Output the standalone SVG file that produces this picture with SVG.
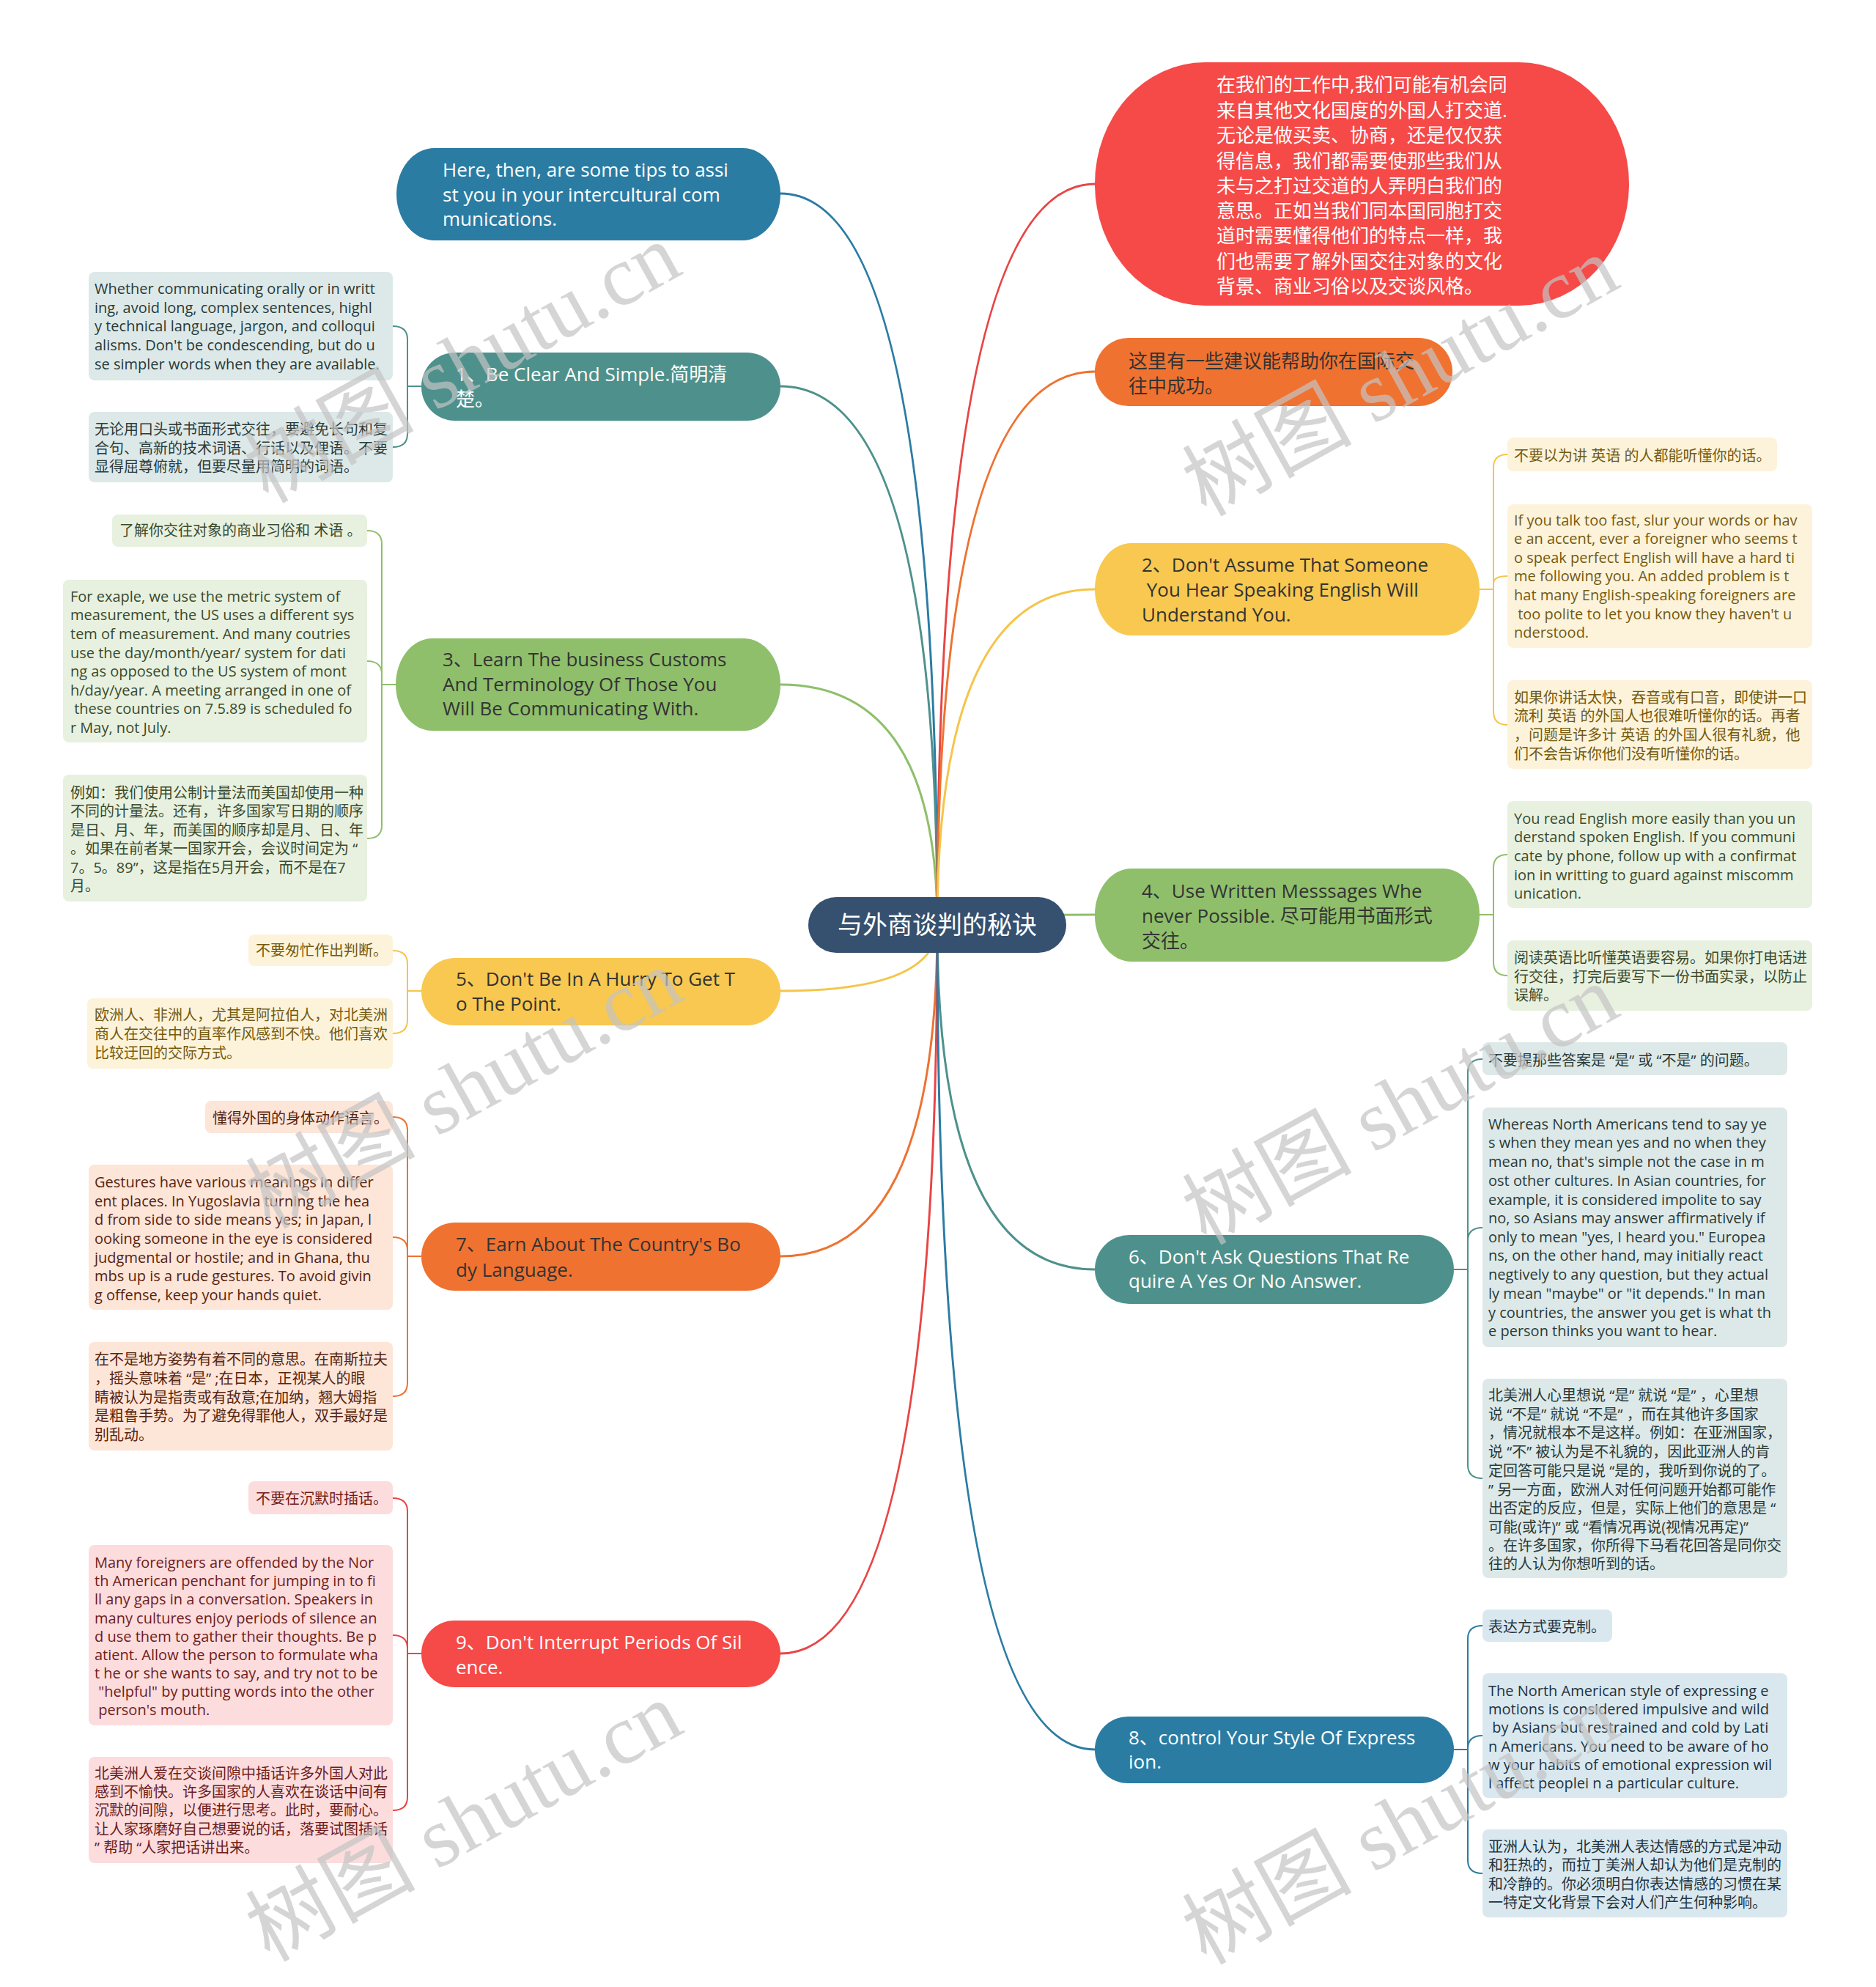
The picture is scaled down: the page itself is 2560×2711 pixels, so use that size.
<svg xmlns="http://www.w3.org/2000/svg" width="2560" height="2711" viewBox="0 0 2560 2711">
<style>
text { font-family: "Open Sans", "Noto Sans CJK SC", sans-serif; white-space: pre; }
.mt { font-size: 26px; }
.lt { font-size: 20px; }
.ct { font-size: 34px; fill: #ffffff; }
.w { fill: #ffffff; }
.d { fill: #333333; }
.con { fill: none; stroke-width: 3; stroke-linecap: round; }
.lcon { fill: none; stroke-width: 2; stroke-linecap: round; }
.blue { fill: #2b7ca3; } .teal { fill: #4e918c; } .green { fill: #8fbf6b; } .yellow { fill: #f8c850; } .orange { fill: #f07230; } .red { fill: #f54a48; }
.sblue { stroke: #2b7ca3; } .steal { stroke: #4e918c; } .sgreen { stroke: #8fbf6b; } .syellow { stroke: #f5c54a; } .sorange { stroke: #ee7230; } .sred { stroke: #e84545; }
.lteal { fill: #dde9e8; } .lgreen { fill: #e8f1df; } .lyellow { fill: #fdf3da; } .lorange { fill: #fde5d8; } .lred { fill: #fcdcdc; } .lblue { fill: #d9e8ef; }
.tteal { fill: #2a3a39; } .tgreen { fill: #3a4a2e; } .tyellow { fill: #735a10; } .torange { fill: #56240f; } .tred { fill: #6e1c1c; } .tblue { fill: #1f3340; }
.wm { font-family: "Liberation Serif", "Noto Sans CJK SC", serif; font-size: 116px; fill: #c4c4c4; opacity: 0.7; }
</style>

<g id="connectors">
  <path class="con sblue" d="M1279,1262 Q1279,264 1065,264"/>
  <path class="con steal" d="M1279,1262 Q1279,527 1065,527"/>
  <path class="con sgreen" d="M1279,1262 Q1279,934 1065,934"/>
  <path class="con syellow" d="M1279,1262 Q1279,1352 1065,1352"/>
  <path class="con sorange" d="M1279,1262 Q1279,1714 1065,1714"/>
  <path class="con sred" d="M1279,1262 Q1279,2256 1065,2256"/>
  <path class="con sred" d="M1279,1262 Q1279,251 1494,251"/>
  <path class="con sorange" d="M1279,1262 Q1279,507 1494,507"/>
  <path class="con syellow" d="M1279,1262 Q1279,804 1494,804"/>
  <path class="con sgreen" d="M1279,1262 Q1279,1248 1494,1248"/>
  <path class="con steal" d="M1279,1262 Q1279,1732 1494,1732"/>
  <path class="con sblue" d="M1279,1262 Q1279,2387 1494,2387"/>

  <path class="lcon steal" d="M575,527 H556 M556,527 V463 Q556,445 536,445 M556,527 V592 Q556,610 536,610"/>
  <path class="lcon sgreen" d="M540,934 H521 M521,934 V742 Q521,724 501,724 M521,934 V920 Q521,902 501,902 M521,934 V1126 Q521,1144 501,1144"/>
  <path class="lcon syellow" d="M575,1352 H556 M556,1352 V1315 Q556,1297 536,1297 M556,1352 V1392 Q556,1410 536,1410"/>
  <path class="lcon sorange" d="M575,1714 H556 M556,1714 V1542 Q556,1524 536,1524 M556,1714 V1706 Q556,1688 536,1688 M556,1714 V1887 Q556,1905 536,1905"/>
  <path class="lcon sred" d="M575,2256 H556 M556,2256 V2062 Q556,2044 536,2044 M556,2256 V2249 Q556,2231 536,2231 M556,2256 V2452 Q556,2470 536,2470"/>

  <path class="lcon syellow" d="M2019,804 H2038 M2038,804 V638 Q2038,620 2057,620 M2038,804 V796 Q2038,786 2057,786 M2038,804 V971 Q2038,989 2057,989"/>
  <path class="lcon sgreen" d="M2019,1248 H2038 M2038,1248 V1184 Q2038,1166 2057,1166 M2038,1248 V1313 Q2038,1331 2057,1331"/>
  <path class="lcon steal" d="M1984,1732 H2003 M2003,1732 V1463 Q2003,1445 2023,1445 M2003,1732 V1693 Q2003,1675 2023,1675 M2003,1732 V1999 Q2003,2017 2023,2017"/>
  <path class="lcon sblue" d="M1984,2387 H2003 M2003,2387 V2236 Q2003,2218 2023,2218 M2003,2387 V2386 Q2003,2368 2023,2368 M2003,2387 V2538 Q2003,2556 2023,2556"/>
</g>

<g id="center">
  <rect x="1103" y="1224" width="352" height="76" rx="38" fill="#36506f"/>
  <text class="ct" x="1279" y="1274" text-anchor="middle">与外商谈判的秘诀</text>
</g>

<g id="node-here">
  <rect class="blue" x="541" y="202" width="524" height="126" rx="52" ry="63"/>
  <text class="mt w"><tspan x="604" y="241">Here, then, are some tips to assi</tspan><tspan x="604" y="275">st you in your intercultural com</tspan><tspan x="604" y="308">munications.</tspan></text>
</g>

<g id="node-1">
  <rect class="teal" x="575" y="481" width="490" height="93" rx="46"/>
  <text class="mt w"><tspan x="622" y="520">1、Be Clear And Simple.简明清</tspan><tspan x="622" y="554">楚。</tspan></text>
</g>
<g id="leaf-1a">
  <rect class="lteal" x="121" y="371" width="415" height="148" rx="8"/>
  <text class="lt tteal"><tspan x="129" y="401">Whether communicating orally or in writt</tspan><tspan x="129" y="427">ing, avoid long, complex sentences, highl</tspan><tspan x="129" y="452">y technical language, jargon, and colloqui</tspan><tspan x="129" y="478">alisms. Don't be condescending, but do u</tspan><tspan x="129" y="504">se simpler words when they are available.</tspan></text>
</g>
<g id="leaf-1b">
  <rect class="lteal" x="121" y="562" width="415" height="96" rx="8"/>
  <text class="lt tteal"><tspan x="129" y="593">无论用口头或书面形式交往，要避免长句和复</tspan><tspan x="129" y="619">合句、高新的技术词语、行话以及俚语。不要</tspan><tspan x="129" y="644">显得屈尊俯就，但要尽量用简明的词语。</tspan></text>
</g>

<g id="node-3">
  <rect class="green" x="540" y="871" width="525" height="126" rx="50" ry="63"/>
  <text class="mt d"><tspan x="604" y="909">3、Learn The business Customs</tspan><tspan x="604" y="943">And Terminology Of Those You</tspan><tspan x="604" y="976">Will Be Communicating With.</tspan></text>
</g>
<g id="leaf-3a">
  <rect class="lgreen" x="153" y="702" width="348" height="44" rx="8"/>
  <text class="lt tgreen" x="163" y="731">了解你交往对象的商业习俗和 术语 。</text>
</g>
<g id="leaf-3b">
  <rect class="lgreen" x="86" y="791" width="415" height="222" rx="8"/>
  <text class="lt tgreen"><tspan x="96" y="821">For exaple, we use the metric system of</tspan><tspan x="96" y="846">measurement, the US uses a different sys</tspan><tspan x="96" y="872">tem of measurement. And many coutries</tspan><tspan x="96" y="898">use the day/month/year/ system for dati</tspan><tspan x="96" y="923">ng as opposed to the US system of mont</tspan><tspan x="96" y="949">h/day/year. A meeting arranged in one of</tspan><tspan x="96" y="974"> these countries on 7.5.89 is scheduled fo</tspan><tspan x="96" y="1000">r May, not July.</tspan></text>
</g>
<g id="leaf-3c">
  <rect class="lgreen" x="86" y="1057" width="415" height="173" rx="8"/>
  <text class="lt tgreen"><tspan x="96" y="1089">例如：我们使用公制计量法而美国却使用一种</tspan><tspan x="96" y="1114">不同的计量法。还有，许多国家写日期的顺序</tspan><tspan x="96" y="1140">是日、月、年，而美国的顺序却是月、日、年</tspan><tspan x="96" y="1165">。如果在前者某一国家开会，会议时间定为 “</tspan><tspan x="96" y="1191">7。5。89”，这是指在5月开会，而不是在7</tspan><tspan x="96" y="1216">月。</tspan></text>
</g>

<g id="node-5">
  <rect class="yellow" x="575" y="1307" width="490" height="92" rx="46"/>
  <text class="mt d"><tspan x="622" y="1345">5、Don't Be In A Hurry To Get T</tspan><tspan x="622" y="1379">o The Point.</tspan></text>
</g>
<g id="leaf-5a">
  <rect class="lyellow" x="339" y="1275" width="197" height="43" rx="8"/>
  <text class="lt tyellow" x="349" y="1304">不要匆忙作出判断。</text>
</g>
<g id="leaf-5b">
  <rect class="lyellow" x="119" y="1362" width="417" height="96" rx="8"/>
  <text class="lt tyellow"><tspan x="129" y="1392">欧洲人、非洲人，尤其是阿拉伯人，对北美洲</tspan><tspan x="129" y="1418">商人在交往中的直率作风感到不快。他们喜欢</tspan><tspan x="129" y="1444">比较迂回的交际方式。</tspan></text>
</g>

<g id="node-7">
  <rect class="orange" x="575" y="1668" width="490" height="93" rx="46"/>
  <text class="mt d"><tspan x="622" y="1707">7、Earn About The Country's Bo</tspan><tspan x="622" y="1742">dy Language.</tspan></text>
</g>
<g id="leaf-7a">
  <rect class="lorange" x="280" y="1502" width="256" height="44" rx="8"/>
  <text class="lt torange" x="290" y="1533">懂得外国的身体动作语言。</text>
</g>
<g id="leaf-7b">
  <rect class="lorange" x="121" y="1589" width="415" height="198" rx="8"/>
  <text class="lt torange"><tspan x="129" y="1620">Gestures have various meanings in differ</tspan><tspan x="129" y="1646">ent places. In Yugoslavia turning the hea</tspan><tspan x="129" y="1671">d from side to side means yes; in Japan, l</tspan><tspan x="129" y="1697">ooking someone in the eye is considered</tspan><tspan x="129" y="1723">judgmental or hostile; and in Ghana, thu</tspan><tspan x="129" y="1748">mbs up is a rude gestures. To avoid givin</tspan><tspan x="129" y="1774">g offense, keep your hands quiet.</tspan></text>
</g>
<g id="leaf-7c">
  <rect class="lorange" x="121" y="1831" width="415" height="148" rx="8"/>
  <text class="lt torange"><tspan x="129" y="1862">在不是地方姿势有着不同的意思。在南斯拉夫</tspan><tspan x="129" y="1888">，摇头意味着 “是” ;在日本，正视某人的眼</tspan><tspan x="129" y="1914">睛被认为是指责或有敌意;在加纳，翘大姆指</tspan><tspan x="129" y="1939">是粗鲁手势。为了避免得罪他人，双手最好是</tspan><tspan x="129" y="1965">别乱动。</tspan></text>
</g>

<g id="node-9">
  <rect class="red" x="575" y="2211" width="490" height="91" rx="45"/>
  <text class="mt w"><tspan x="622" y="2250">9、Don't Interrupt Periods Of Sil</tspan><tspan x="622" y="2284">ence.</tspan></text>
</g>
<g id="leaf-9a">
  <rect class="lred" x="339" y="2021" width="197" height="45" rx="8"/>
  <text class="lt tred" x="349" y="2052">不要在沉默时插话。</text>
</g>
<g id="leaf-9b">
  <rect class="lred" x="121" y="2108" width="415" height="246" rx="8"/>
  <text class="lt tred"><tspan x="129" y="2139">Many foreigners are offended by the Nor</tspan><tspan x="129" y="2164">th American penchant for jumping in to fi</tspan><tspan x="129" y="2189">ll any gaps in a conversation. Speakers in</tspan><tspan x="129" y="2215">many cultures enjoy periods of silence an</tspan><tspan x="129" y="2240">d use them to gather their thoughts. Be p</tspan><tspan x="129" y="2265">atient. Allow the person to formulate wha</tspan><tspan x="129" y="2290">t he or she wants to say, and try not to be</tspan><tspan x="129" y="2315"> "helpful" by putting words into the other</tspan><tspan x="129" y="2340"> person's mouth.</tspan></text>
</g>
<g id="leaf-9c">
  <rect class="lred" x="121" y="2397" width="415" height="145" rx="8"/>
  <text class="lt tred"><tspan x="129" y="2427">北美洲人爱在交谈间隙中插话许多外国人对此</tspan><tspan x="129" y="2452">感到不愉快。许多国家的人喜欢在谈话中间有</tspan><tspan x="129" y="2477">沉默的间隙，以便进行思考。此时，要耐心。</tspan><tspan x="129" y="2503">让人家琢磨好自己想要说的话，落要试图插话</tspan><tspan x="129" y="2528">” 帮助 “人家把话讲出来。</tspan></text>
</g>

<g id="node-r1">
  <rect class="red" x="1494" y="85" width="729" height="332" rx="150" ry="166"/>
  <text class="mt w"><tspan x="1660" y="125">在我们的工作中,我们可能有机会同</tspan><tspan x="1660" y="160">来自其他文化国度的外国人打交道.</tspan><tspan x="1660" y="194">无论是做买卖、协商，还是仅仅获</tspan><tspan x="1660" y="229">得信息，我们都需要使那些我们从</tspan><tspan x="1660" y="263">未与之打过交道的人弄明白我们的</tspan><tspan x="1660" y="297">意思。正如当我们同本国同胞打交</tspan><tspan x="1660" y="331">道时需要懂得他们的特点一样，我</tspan><tspan x="1660" y="366">们也需要了解外国交往对象的文化</tspan><tspan x="1660" y="400">背景、商业习俗以及交谈风格。</tspan></text>
</g>

<g id="node-r2">
  <rect class="orange" x="1494" y="461" width="488" height="93" rx="46"/>
  <text class="mt d"><tspan x="1540" y="502">这里有一些建议能帮助你在国际交</tspan><tspan x="1540" y="536">往中成功。</tspan></text>
</g>

<g id="node-r3">
  <rect class="yellow" x="1494" y="741" width="525" height="126" rx="50" ry="63"/>
  <text class="mt d"><tspan x="1558" y="780">2、Don't Assume That Someone</tspan><tspan x="1558" y="814"> You Hear Speaking English Will</tspan><tspan x="1558" y="848">Understand You.</tspan></text>
</g>
<g id="leaf-r3a">
  <rect class="lyellow" x="2057" y="597" width="368" height="46" rx="8"/>
  <text class="lt tyellow" x="2066" y="629">不要以为讲 英语 的人都能听懂你的话。</text>
</g>
<g id="leaf-r3b">
  <rect class="lyellow" x="2057" y="688" width="416" height="196" rx="8"/>
  <text class="lt tyellow"><tspan x="2066" y="717">If you talk too fast, slur your words or hav</tspan><tspan x="2066" y="742">e an accent, ever a foreigner who seems t</tspan><tspan x="2066" y="768">o speak perfect English will have a hard ti</tspan><tspan x="2066" y="793">me following you. An added problem is t</tspan><tspan x="2066" y="819">hat many English-speaking foreigners are</tspan><tspan x="2066" y="845"> too polite to let you know they haven't u</tspan><tspan x="2066" y="870">nderstood.</tspan></text>
</g>
<g id="leaf-r3c">
  <rect class="lyellow" x="2057" y="928" width="416" height="121" rx="8"/>
  <text class="lt tyellow"><tspan x="2066" y="959">如果你讲话太快，吞音或有口音，即使讲一口</tspan><tspan x="2066" y="984">流利 英语 的外国人也很难听懂你的话。再者</tspan><tspan x="2066" y="1010">，问题是许多计 英语 的外国人很有礼貌，他</tspan><tspan x="2066" y="1036">们不会告诉你他们没有听懂你的话。</tspan></text>
</g>

<g id="node-r4">
  <rect class="green" x="1494" y="1185" width="525" height="127" rx="50" ry="63"/>
  <text class="mt d"><tspan x="1558" y="1225">4、Use Written Messsages Whe</tspan><tspan x="1558" y="1259">never Possible. 尽可能用书面形式</tspan><tspan x="1558" y="1293">交往。</tspan></text>
</g>
<g id="leaf-r4a">
  <rect class="lgreen" x="2057" y="1093" width="416" height="146" rx="8"/>
  <text class="lt tgreen"><tspan x="2066" y="1124">You read English more easily than you un</tspan><tspan x="2066" y="1149">derstand spoken English. If you communi</tspan><tspan x="2066" y="1175">cate by phone, follow up with a confirmat</tspan><tspan x="2066" y="1201">ion in writting to guard against miscomm</tspan><tspan x="2066" y="1226">unication.</tspan></text>
</g>
<g id="leaf-r4b">
  <rect class="lgreen" x="2057" y="1283" width="416" height="96" rx="8"/>
  <text class="lt tgreen"><tspan x="2066" y="1314">阅读英语比听懂英语要容易。如果你打电话进</tspan><tspan x="2066" y="1340">行交往，打完后要写下一份书面实录，以防止</tspan><tspan x="2066" y="1365">误解。</tspan></text>
</g>

<g id="node-r6">
  <rect class="teal" x="1494" y="1685" width="490" height="94" rx="47"/>
  <text class="mt w"><tspan x="1540" y="1724">6、Don't Ask Questions That Re</tspan><tspan x="1540" y="1757">quire A Yes Or No Answer.</tspan></text>
</g>
<g id="leaf-r6a">
  <rect class="lteal" x="2023" y="1422" width="416" height="45" rx="8"/>
  <text class="lt tteal" x="2031" y="1454">不要提那些答案是 “是” 或 “不是” 的问题。</text>
</g>
<g id="leaf-r6b">
  <rect class="lteal" x="2023" y="1511" width="416" height="327" rx="8"/>
  <text class="lt tteal"><tspan x="2031" y="1541">Whereas North Americans tend to say ye</tspan><tspan x="2031" y="1566">s when they mean yes and no when they</tspan><tspan x="2031" y="1592">mean no, that's simple not the case in m</tspan><tspan x="2031" y="1618">ost other cultures. In Asian countries, for</tspan><tspan x="2031" y="1644">example, it is considered impolite to say</tspan><tspan x="2031" y="1669">no, so Asians may answer affirmatively if</tspan><tspan x="2031" y="1695">only to mean "yes, I heard you." Europea</tspan><tspan x="2031" y="1720">ns, on the other hand, may initially react</tspan><tspan x="2031" y="1746">negtively to any question, but they actual</tspan><tspan x="2031" y="1772">ly mean "maybe" or "it depends." In man</tspan><tspan x="2031" y="1798">y countries, the answer you get is what th</tspan><tspan x="2031" y="1823">e person thinks you want to hear.</tspan></text>
</g>
<g id="leaf-r6c">
  <rect class="lteal" x="2023" y="1881" width="416" height="272" rx="8"/>
  <text class="lt tteal"><tspan x="2031" y="1911">北美洲人心里想说 “是” 就说 “是” ，心里想</tspan><tspan x="2031" y="1937">说 “不是” 就说 “不是” ，而在其他许多国家</tspan><tspan x="2031" y="1962">，情况就根本不是这样。例如：在亚洲国家，</tspan><tspan x="2031" y="1988">说 “不” 被认为是不礼貌的，因此亚洲人的肯</tspan><tspan x="2031" y="2014">定回答可能只是说 “是的，我听到你说的了。</tspan><tspan x="2031" y="2040">” 另一方面，欧洲人对任何问题开始都可能作</tspan><tspan x="2031" y="2065">出否定的反应，但是，实际上他们的意思是 “</tspan><tspan x="2031" y="2091">可能(或许)” 或 “看情况再说(视情况再定)”</tspan><tspan x="2031" y="2116">。在许多国家，你所得下马看花回答是同你交</tspan><tspan x="2031" y="2141">往的人认为你想听到的话。</tspan></text>
</g>

<g id="node-r8">
  <rect class="blue" x="1494" y="2342" width="490" height="91" rx="45"/>
  <text class="mt w"><tspan x="1540" y="2380">8、control Your Style Of Express</tspan><tspan x="1540" y="2413">ion.</tspan></text>
</g>
<g id="leaf-r8a">
  <rect class="lblue" x="2023" y="2196" width="177" height="44" rx="8"/>
  <text class="lt tblue" x="2031" y="2227">表达方式要克制。</text>
</g>
<g id="leaf-r8b">
  <rect class="lblue" x="2023" y="2283" width="416" height="170" rx="8"/>
  <text class="lt tblue"><tspan x="2031" y="2314">The North American style of expressing e</tspan><tspan x="2031" y="2339">motions is considered impulsive and wild</tspan><tspan x="2031" y="2364"> by Asians but restrained and cold by Lati</tspan><tspan x="2031" y="2390">n Americans. You need to be aware of ho</tspan><tspan x="2031" y="2415">w your habits of emotional expression wil</tspan><tspan x="2031" y="2440">l affect peoplei n a particular culture.</tspan></text>
</g>
<g id="leaf-r8c">
  <rect class="lblue" x="2023" y="2496" width="416" height="120" rx="8"/>
  <text class="lt tblue"><tspan x="2031" y="2527">亚洲人认为，北美洲人表达情感的方式是冲动</tspan><tspan x="2031" y="2552">和狂热的，而拉丁美洲人却认为他们是克制的</tspan><tspan x="2031" y="2578">和冷静的。你必须明白你表达情感的习惯在某</tspan><tspan x="2031" y="2603">一特定文化背景下会对人们产生何种影响。</tspan></text>
</g>

<g id="watermarks">
  <text class="wm" text-anchor="middle" transform="translate(650,530) rotate(-29)">树图 shutu.cn</text>
  <text class="wm" text-anchor="middle" transform="translate(1930,548) rotate(-29)">树图 shutu.cn</text>
  <text class="wm" text-anchor="middle" transform="translate(652,1520) rotate(-29)">树图 shutu.cn</text>
  <text class="wm" text-anchor="middle" transform="translate(1930,1542) rotate(-29)">树图 shutu.cn</text>
  <text class="wm" text-anchor="middle" transform="translate(652,2520) rotate(-29)">树图 shutu.cn</text>
  <text class="wm" text-anchor="middle" transform="translate(1930,2524) rotate(-29)">树图 shutu.cn</text>
</g>
</svg>
